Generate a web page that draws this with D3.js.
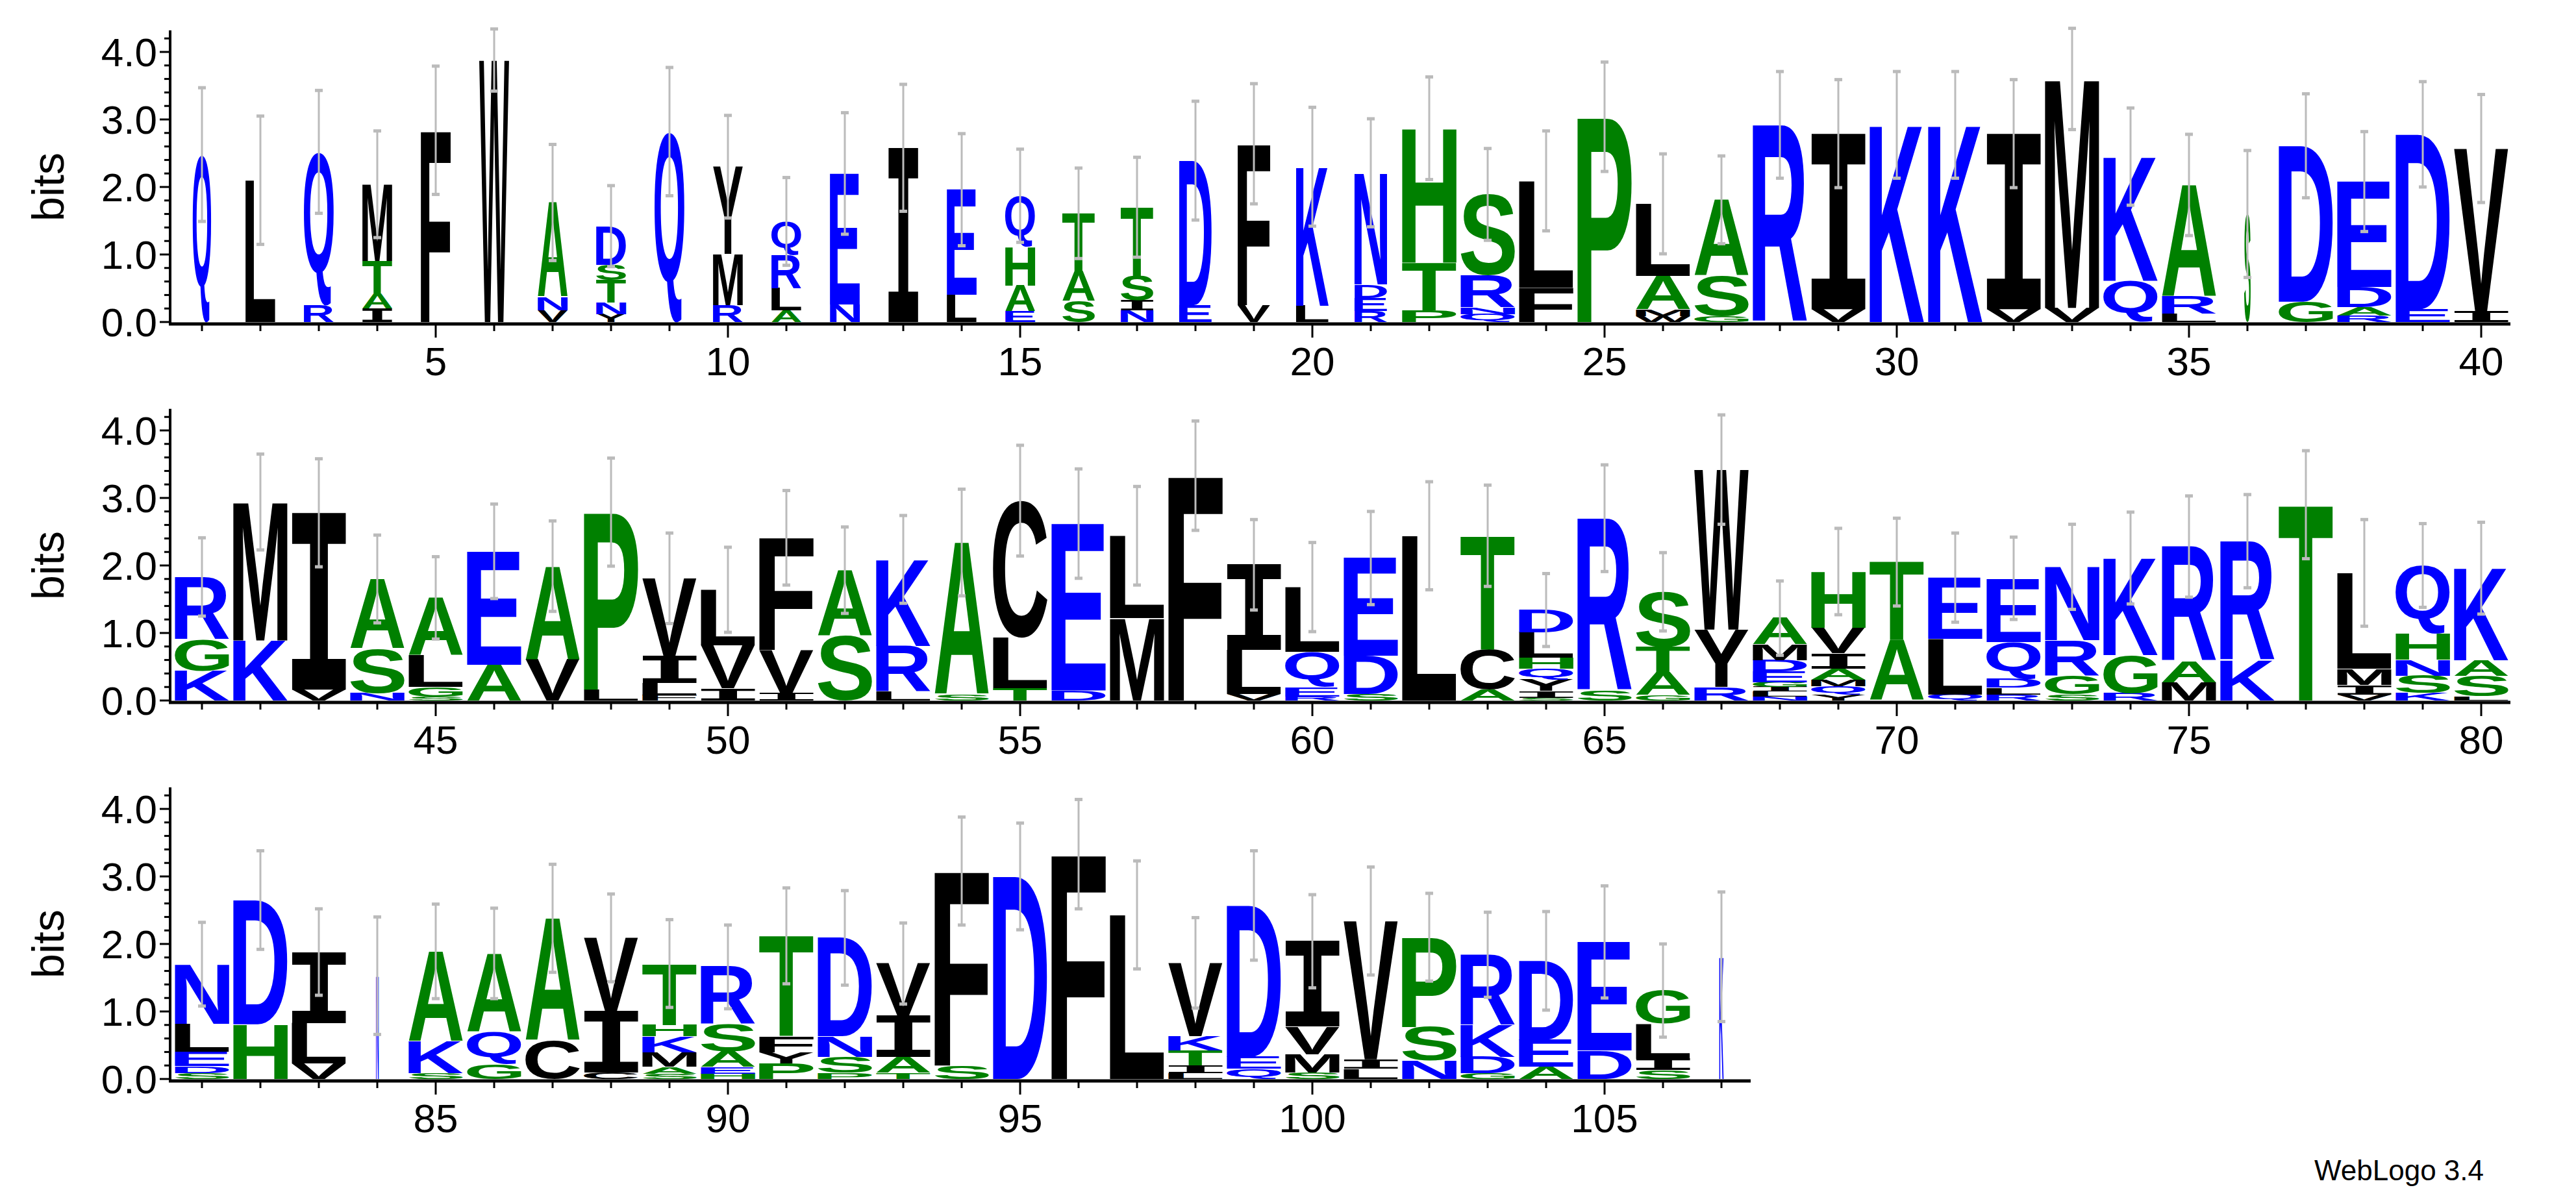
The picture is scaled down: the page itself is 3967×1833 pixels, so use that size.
<!DOCTYPE html>
<html><head><meta charset="utf-8">
<script src="https://cdn.jsdelivr.net/npm/d3@7"></script>
<style>body{margin:0;background:#fff}svg{display:block}</style>
</head><body>
<script>
const letters = ["Q","L","RQ","IATM","F","W","VNA","YNTSD","Q","RMY","ALRQ","NE","I","LE","EAHQ","SAT","NIST","ED","VF","LK",
"REDN","PTH","QNRS","FL","P","WMAL","GSA","R","VI","K","K","VI","VM","QK","LRA","S","GD","RADE","ED","IV",
"KGR","KM","VI","NSA","SGLA","AE","VA","LP","FLIV","IVL","IVF","SA","LRK","SA","TLC","DE","ML","F","VLI","REQL",
"SDE","L","ACT","SIYQHLD","SR","GATS","RYW","NLIGEDMA","YQMAIVH","AT","QLE","RLDQE","SGRN","RGK","MAR","KR","T","VIML","KSNHQ","LSAK",
"SDELN","HD","VLI","N","SKA","GQA","CA","CIV","SAMKHT","HEASR","PYFT","PSND","TAIV","SF","D","F","L","LITKV","QED","SMVI",
"LIV","NSP","GDKR","AED","DE","SILG","K"];
const heights = [[2.48],[2.1],[.25,2.27],[.2,.22,.48,1.14],[2.84],[3.88],[.17,.2,1.4],[.12,.17,.33,.23,.57],[2.82],[.25,.76,1.29],
[.17,.33,.49,.5],[.26,1.94],[2.58],[.4,1.56],[.16,.38,.57,.76],[.31,.45,.85],[.17,.15,.36,1.02],[.25,2.14],[.25,2.39],[.24,2.06],
[.16,.2,.2,1.65],[.17,.71,1.99],[.12,.1,.47,1.2],[.51,1.58],[3.04],[.09,.1,.49,1.07],[.09,.59,1.13],[2.92],[.19,2.6],[2.92],
[2.92],[.19,2.6],[.21,3.39],[.61,1.84],[.12,.26,1.65],[1.6],[.3,2.31],[.1,.12,.3,1.56],[.19,2.59],[.16,2.41],
[.44,.47,.92],[.89,2.05],[.16,2.62],[.11,.66,1.03],[.06,.14,.47,.85],[.53,1.68],[.61,1.38],[.16,2.63],[.08,.18,.4,1.15],[.18,.64,.82],
[.11,.64,1.66],[.96,.97],[.13,.68,1.28],[.09,2.25],[.18,.75,2.03],[.15,2.47],[1.22,1.22],[3.33],[.1,.65,1.26],[.06,.14,.52,.96],
[.1,.56,1.45],[2.44],[.16,.59,1.69],[.04,.1,.17,.16,.16,.38,.33],[.15,2.55],[.08,.33,.38,.82],[.2,.85,2.37],[.06,.07,.07,.07,.16,.17,.23,.39],[.09,.12,.1,.16,.23,.38,.83],[.89,1.16],
[.09,.82,.91],[.09,.1,.14,.54,.94],[.09,.28,.52,1.09],[.11,.56,1.44],[.27,.31,1.7],[.6,1.76],[2.9],[.09,.14,.24,1.42],[.11,.26,.24,.38,1.01],[.06,.3,.24,1.36],
[.09,.1,.21,.42,.88],[.81,1.84],[.23,.6,1.05],[1.53],[.09,.47,1.33],[.22,.48,1.16],[.57,1.81],[.1,.91,1.08],[.08,.1,.21,.24,.17,.91],[.08,.1,.23,.4,.85],
[.23,.16,.24,1.49],[.09,.24,.3,1.46],[.09,.24,.61,.77],[.2,2.88],[3.0],[3.33],[2.43],[.09,.11,.22,.21,1.09],[.15,.18,2.24],[.1,.27,.41,1.26],
[.15,.14,2.05],[.27,.5,1.33],[.09,.24,.47,1.04],[.18,.4,1.17],[.42,1.61],[.13,.17,.52,.49],[1.81]];
const errors = [.99,.95,.91,.79,.95,.46,.86,.6,.95,.76,.65,.9,.94,.83,.69,.67,.74,.88,.89,.88,
.8,.76,.68,.74,.81,.74,.65,.79,.8,.79,.79,.8,.75,.72,.75,.94,.77,.74,.78,.8,
.58,.71,.8,.65,.61,.7,.67,.8,.67,.63,.7,.64,.65,.79,.82,.81,.73,.81,.67,.66,
.69,.8,.75,.54,.79,.58,.81,.55,.64,.65,.66,.61,.63,.68,.75,.69,.8,.79,.62,.68,
.62,.73,.64,.87,.7,.67,.8,.65,.65,.62,.71,.7,.6,.8,.79,.81,.8,.67,.81,.69,
.8,.65,.63,.73,.83,.69,.96];
const widths = [.34,.55,.55,.55,.55,.55,.55,.55,.55,.55,.55,.55,.55,.55,.55,.6,.6,.6,.6,.6,
.6,1,1,1,1,1,1,1,1,1,1,1,1,1,1,.12,1,1,1,1,
1,1,1,1,1,1,1,1,1,1,1,1,1,1,1,1,1,1,1,1,
1,1,1,1,1,1,1,1,1,1,1,1,1,1,1,1,1,1,1,1,
1,1,1,.05,1,1,1,1,1,1,1,1,1,1,1,1,1,1,1,1,
1,1,1,1,1,1,.08];
const yTicks = [0,1,2,3,4];
const rowStarts = [1,41,81];
const rowEnds = [40,80,107];

const W=3967,H=1833;
const svg=d3.select("body").append("svg").attr("width",W).attr("height",H);
const FONT="'Liberation Sans', Arial, sans-serif";
const IFONT="'DejaVu Sans Mono', monospace";
const fontOf=c=>c==="I"?IFONT:FONT;
const color=c=>"RKDENQ".includes(c)?"#0000ff":("SGHTAP".includes(c)?"#008000":"#000000");
const cv=document.createElement("canvas").getContext("2d");
const metrics={};
function m(c){ if(!metrics[c]){cv.font="bold 200px "+fontOf(c);const t=cv.measureText(c);metrics[c]={l:-t.actualBoundingBoxLeft,r:t.actualBoundingBoxRight,a:t.actualBoundingBoxAscent,d:t.actualBoundingBoxDescent};} return metrics[c];}
const bases=[496,1079,1662], step=90, left=266, ppb=104, ymax=4.32;
rowStarts.forEach((s,ri)=>{
  const e=rowEnds[ri], base=bases[ri];
  const x=d3.scaleLinear().domain([s-0.5,s+39.5]).range([left,left+40*step]);
  const y=d3.scaleLinear().domain([0,ymax]).range([base,base-ymax*ppb]);
  const g=svg.append("g");
  for(let p=s;p<=e;p++){
    const i=p-1, lw=0.93*step*widths[i];
    let cum=0;
    letters[i].split("").forEach((c,k)=>{
      const h=heights[i][k];
      const y1=y(cum+h), hp=y(cum)-y(cum+h);
      const mm=m(c), gw=mm.r-mm.l, gh=mm.a+mm.d;
      const sx=lw/gw, sy=hp/gh;
      g.append("text").text(c).attr("font-family",fontOf(c)).attr("font-weight","bold").attr("font-size",200)
        .attr("fill",color(c))
        .attr("transform",`translate(${x(p)-lw/2},${y1}) scale(${sx},${sy}) translate(${-mm.l},${mm.a})`);
      cum+=h;
    });
    const er=errors[i], top=cum;
    const ya=y(top+er), yb=y(Math.max(0,top-er));
    g.append("line").attr("x1",x(p)).attr("x2",x(p)).attr("y1",ya).attr("y2",yb).attr("stroke","#bbbbbb").attr("stroke-width",3);
    [ya,yb].forEach(yy=>g.append("rect").attr("x",x(p)-6).attr("y",yy-2.5).attr("width",12).attr("height",5).attr("fill","#bbbbbb"));
  }
  g.append("line").attr("x1",left-4).attr("x2",left-4).attr("y1",y(0)+5).attr("y2",y(ymax)).attr("stroke","#000").attr("stroke-width",4);
  d3.range(0,ymax+0.001,0.2).forEach(v=>{
    const major=Math.abs(v-Math.round(v))<1e-6;
    g.append("line").attr("x1",left-4).attr("x2",left-4-(major?16:9)).attr("y1",y(v)).attr("y2",y(v)).attr("stroke","#000").attr("stroke-width",3);
  });
  yTicks.forEach(v=>g.append("text").attr("x",left-24).attr("y",y(v)).attr("dy","0.36em").attr("text-anchor","end")
    .attr("font-family",FONT).attr("font-size",62).text(d3.format(".1f")(v)));
  g.append("text").attr("transform",`translate(${98},${y(2)}) rotate(-90)`).attr("text-anchor","middle")
    .attr("font-family",FONT).attr("font-size",68).text("bits");
  const xEnd=x(e+0.5);
  g.append("line").attr("x1",left-6).attr("x2",xEnd).attr("y1",base+3).attr("y2",base+3).attr("stroke","#000").attr("stroke-width",5);
  for(let p=s;p<=e;p++){
    const major=p%5===0;
    g.append("line").attr("x1",x(p)).attr("x2",x(p)).attr("y1",base+5).attr("y2",base+(major?24:14)).attr("stroke","#000").attr("stroke-width",3);
    if(major) g.append("text").attr("x",x(p)).attr("y",base+82).attr("text-anchor","middle")
      .attr("font-family",FONT).attr("font-size",62).text(p);
  }
});
svg.append("text").attr("x",3825).attr("y",1818).attr("text-anchor","end").attr("font-family",FONT).attr("font-size",44).text("WebLogo 3.4");
</script>
</body></html>
